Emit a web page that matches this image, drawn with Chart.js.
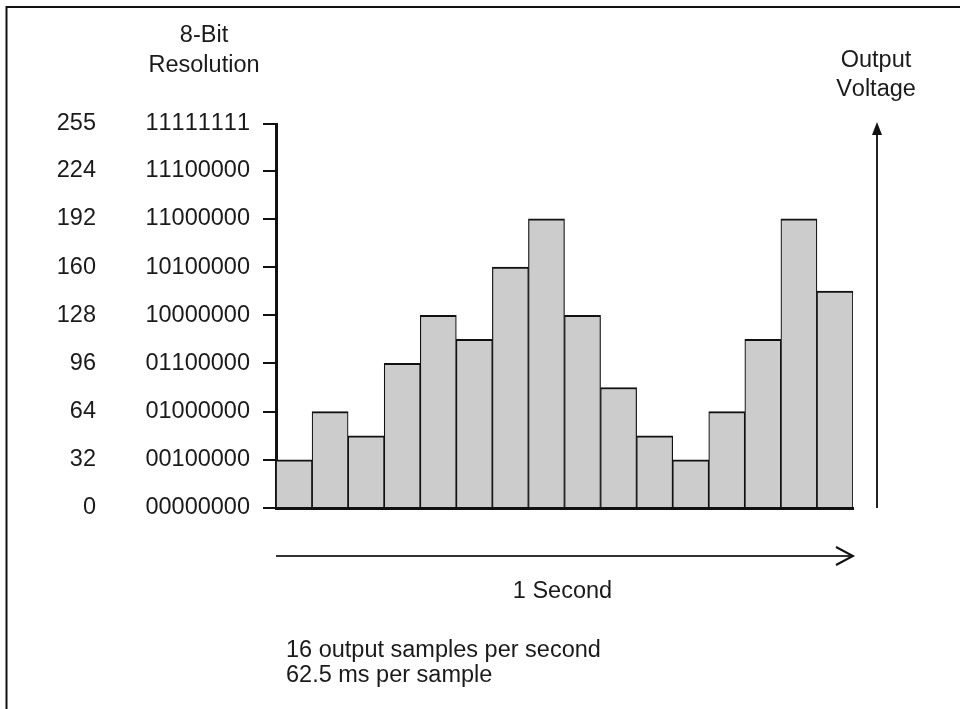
<!DOCTYPE html>
<html>
<head>
<meta charset="utf-8">
<script src="https://cdn.jsdelivr.net/npm/chart.js@4.4.1/dist/chart.umd.min.js"></script>
<style>
  html, body { margin: 0; padding: 0; background: #fff; }
  canvas { display: block; }
</style>
</head>
<body>
<canvas id="dacChart" width="960" height="709"></canvas>
<script>
// 16 samples in one second, 8-bit levels
const samples = ['1', '2', '3', '4', '5', '6', '7', '8', '9', '10', '11', '12', '13', '14', '15', '16'];
const levels = [32, 64, 48, 96, 128, 112, 160, 192, 128, 80, 48, 32, 64, 112, 192, 144];
const tickValues = [0, 32, 64, 96, 128, 160, 192, 224, 255];
const binaryLabels = ['00000000', '00100000', '01000000', '01100000', '10000000', '10100000', '11000000', '11100000', '11111111'];

const FONT = 'Liberation Sans, Arial, sans-serif';
const FONT_SIZE = 23.5;
const INK = '#1a1a1a';

const setTicks = scale => { scale.ticks = tickValues.map(v => ({ value: v })); };

// no kerning, digits keep their full width like the original
const noKerning = {
    id: 'noKerning',
    beforeDraw(chart) {
        chart.ctx.fontKerning = 'none';
    }
};

// extra drawing: frame, arrows and captions
const annotations = {
    id: 'annotations',
    afterDraw(chart) {
        const { ctx, chartArea: { left, right, top, bottom } } = chart;
        ctx.save();
        // frame (image is cropped at right and bottom)
        ctx.strokeStyle = '#111';
        ctx.lineWidth = 2;
        ctx.beginPath();
        ctx.moveTo(6.5, 712);
        ctx.lineTo(6.5, 7);
        ctx.lineTo(962, 7);
        ctx.stroke();

        // vertical arrow "Output Voltage"
        const ax = 877;
        ctx.strokeStyle = '#222';
        ctx.lineWidth = 2;
        ctx.beginPath();
        ctx.moveTo(ax, bottom);
        ctx.lineTo(ax, top + 8);
        ctx.stroke();
        ctx.fillStyle = '#111';
        ctx.beginPath();
        ctx.moveTo(ax, top - 2);
        ctx.lineTo(ax - 5, top + 11);
        ctx.lineTo(ax + 5, top + 11);
        ctx.closePath();
        ctx.fill();

        // horizontal arrow "1 Second"
        const ay = 556;
        ctx.strokeStyle = '#333';
        ctx.lineWidth = 2;
        ctx.beginPath();
        ctx.moveTo(left, ay);
        ctx.lineTo(right, ay);
        ctx.stroke();
        ctx.strokeStyle = '#111';
        ctx.beginPath();
        ctx.moveTo(right - 17, ay - 9);
        ctx.lineTo(right, ay);
        ctx.lineTo(right - 17, ay + 9);
        ctx.stroke();

        // captions
        ctx.fontKerning = 'none';
        ctx.fillStyle = INK;
        ctx.font = FONT_SIZE + 'px ' + FONT;
        ctx.textBaseline = 'alphabetic';
        ctx.textAlign = 'center';
        ctx.fillText('8-Bit', 204, 42);
        ctx.fillText('Resolution', 204, 72);
        ctx.fillText('Output', 876, 67);
        ctx.fillText('Voltage', 876, 96);
        ctx.fillText('1 Second', (left + right) / 2 - 2, 598);
        ctx.textAlign = 'left';
        ctx.fillText('16 output samples per second', 286, 657);
        ctx.fillText('62.5 ms per sample', 286, 682);
        ctx.restore();
    }
};

new Chart(document.getElementById('dacChart'), {
    type: 'bar',
    data: {
        labels: samples,
        datasets: [{
            label: 'Output level',
            data: levels,
            backgroundColor: '#cccccc',
            borderColor: '#111',
            borderWidth: { top: 2, left: 1.2, right: 1.2, bottom: 0 },
            borderSkipped: false,
            barPercentage: 1,
            categoryPercentage: 1,
            yAxisID: 'y'
        }]
    },
    options: {
        responsive: false,
        animation: false,
        events: [],
        layout: { padding: { top: 124, right: 107, left: 0, bottom: 0 } },
        plugins: {
            legend: { display: false },
            tooltip: { enabled: false }
        },
        scales: {
            x: {
                grid: { display: false, drawTicks: false },
                border: { display: true, color: '#111', width: 3 },
                ticks: { display: false },
                afterFit(scale) { scale.height = 201; }
            },
            dec: {
                position: 'left',
                weight: 10,
                min: 0,
                max: 255,
                afterBuildTicks: setTicks,
                grid: { display: false, drawTicks: false },
                border: { display: false },
                ticks: {
                    color: INK,
                    font: { family: FONT, size: FONT_SIZE },
                    padding: 30,
                    autoSkip: false
                },
                afterFit(scale) { scale.width = 126; }
            },
            y: {
                position: 'left',
                weight: 0,
                min: 0,
                max: 255,
                afterBuildTicks: setTicks,
                grid: { drawOnChartArea: false, drawTicks: true, tickLength: 13, color: '#111', lineWidth: 2 },
                border: { display: true, color: '#111', width: 3 },
                ticks: {
                    color: INK,
                    font: { family: FONT, size: FONT_SIZE },
                    padding: 13,
                    autoSkip: false,
                    callback: (value) => binaryLabels[tickValues.indexOf(value)]
                },
                afterFit(scale) { scale.width = 150; }
            }
        }
    },
    plugins: [noKerning, annotations]
});
</script>
</body>
</html>
